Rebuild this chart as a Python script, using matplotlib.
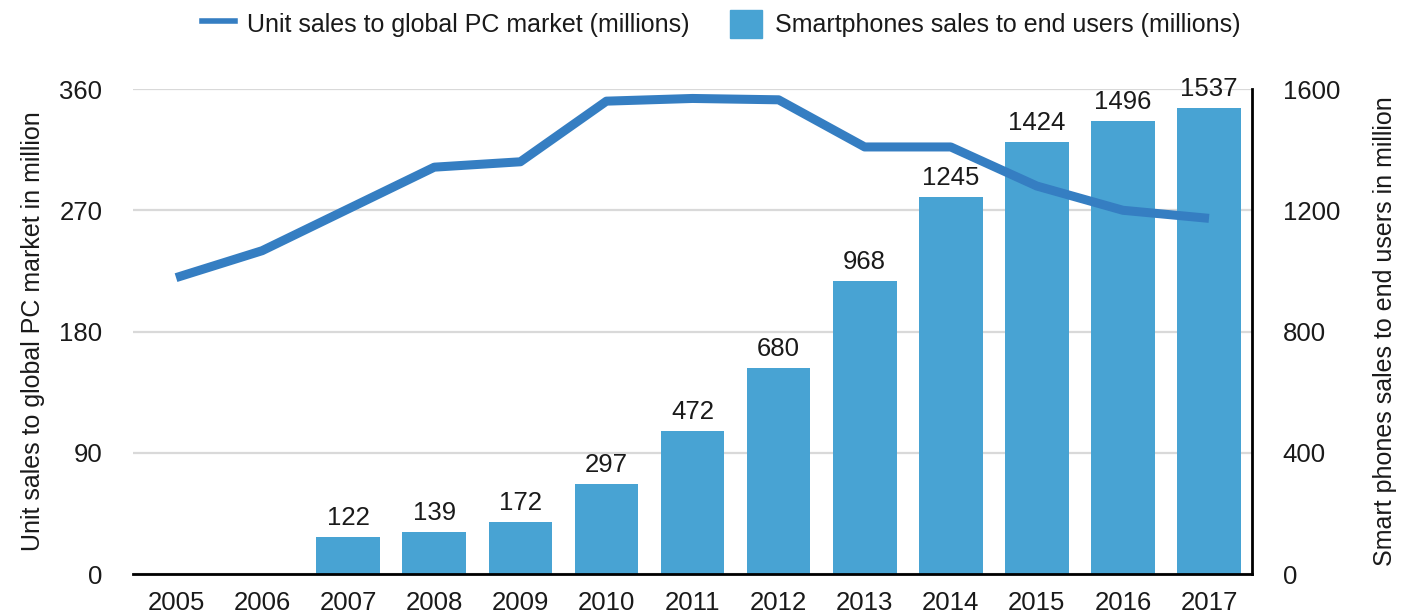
import matplotlib.pyplot as plt
from matplotlib.lines import Line2D
from matplotlib.patches import Patch

plt.rcParams['font.family'] = ['Liberation Sans', 'DejaVu Sans']

years = ['2005', '2006', '2007', '2008', '2009', '2010', '2011',
         '2012', '2013', '2014', '2015', '2016', '2017']
pc_sales = [220, 240, 271, 302, 306, 351, 353, 352, 317, 317, 288, 270, 264]
phone_sales = [0, 0, 122, 139, 172, 297, 472, 680, 968, 1245, 1424, 1496, 1537]

bar_col = '#48a3d3'
line_col = '#357ec2'
txt = '#1a1a1a'

fig = plt.figure(figsize=(14.03, 6.14), dpi=100)
ax = fig.add_axes([0.0948, 0.0651, 0.7976, 0.7899])
x = list(range(len(years)))

# bars use the right hand scale
ax.bar(x, phone_sales, width=0.74, color=bar_col, zorder=2)
for xi, v in zip(x, phone_sales):
    if v > 0:
        ax.annotate(str(v), (xi, v), xytext=(0, 5), textcoords='offset points',
                    ha='center', va='bottom', fontsize=18.5, color=txt)
ax.set_ylim(0, 1600)
ax.set_yticks([0, 400, 800, 1200, 1600])
ax.grid(axis='y', color='#d9d9d9', linewidth=1.6, zorder=0)
ax.set_axisbelow(True)

# line uses the left hand scale
ax2 = ax.twinx()
ax2.plot(x, pc_sales, color=line_col, linewidth=6.5, solid_capstyle='butt', zorder=3)
ax2.set_ylim(0, 360)
ax2.set_yticks([0, 90, 180, 270, 360])

ax.yaxis.tick_right()
ax.yaxis.set_label_position('right')
ax2.yaxis.tick_left()
ax2.yaxis.set_label_position('left')
ax.set_ylabel('Smart phones sales to end users in million', fontsize=18,
              color=txt, labelpad=24)
ax2.set_ylabel('Unit sales to global PC market in million', fontsize=18,
               color=txt, labelpad=10)

ax.set_xlim(-0.5, len(years) - 0.5)
ax.set_xticks(x)
ax.set_xticklabels(years)

for a in (ax, ax2):
    a.tick_params(length=0, labelsize=18.5, labelcolor=txt)
    for s in ('top', 'left', 'right', 'bottom'):
        a.spines[s].set_visible(False)
ax.tick_params(axis='x', pad=12)
ax.tick_params(axis='y', pad=22)
ax2.tick_params(axis='y', pad=22)
ax.spines['bottom'].set_visible(True)
ax.spines['bottom'].set_linewidth(2)
ax.spines['right'].set_visible(True)
ax.spines['right'].set_linewidth(2)

handles = [Line2D([0], [0], color=line_col, linewidth=4),
           Patch(color=bar_col)]
fig.legend(handles, ['Unit sales to global PC market (millions)',
                     'Smartphones sales to end users (millions)'],
           loc='center', bbox_to_anchor=(0.514, 0.961), ncol=2, frameon=False,
           fontsize=18, handlelength=1.3, handleheight=1.3, columnspacing=1.6,
           handletextpad=0.5, labelcolor=txt)

fig.savefig('out.png', dpi=100)
